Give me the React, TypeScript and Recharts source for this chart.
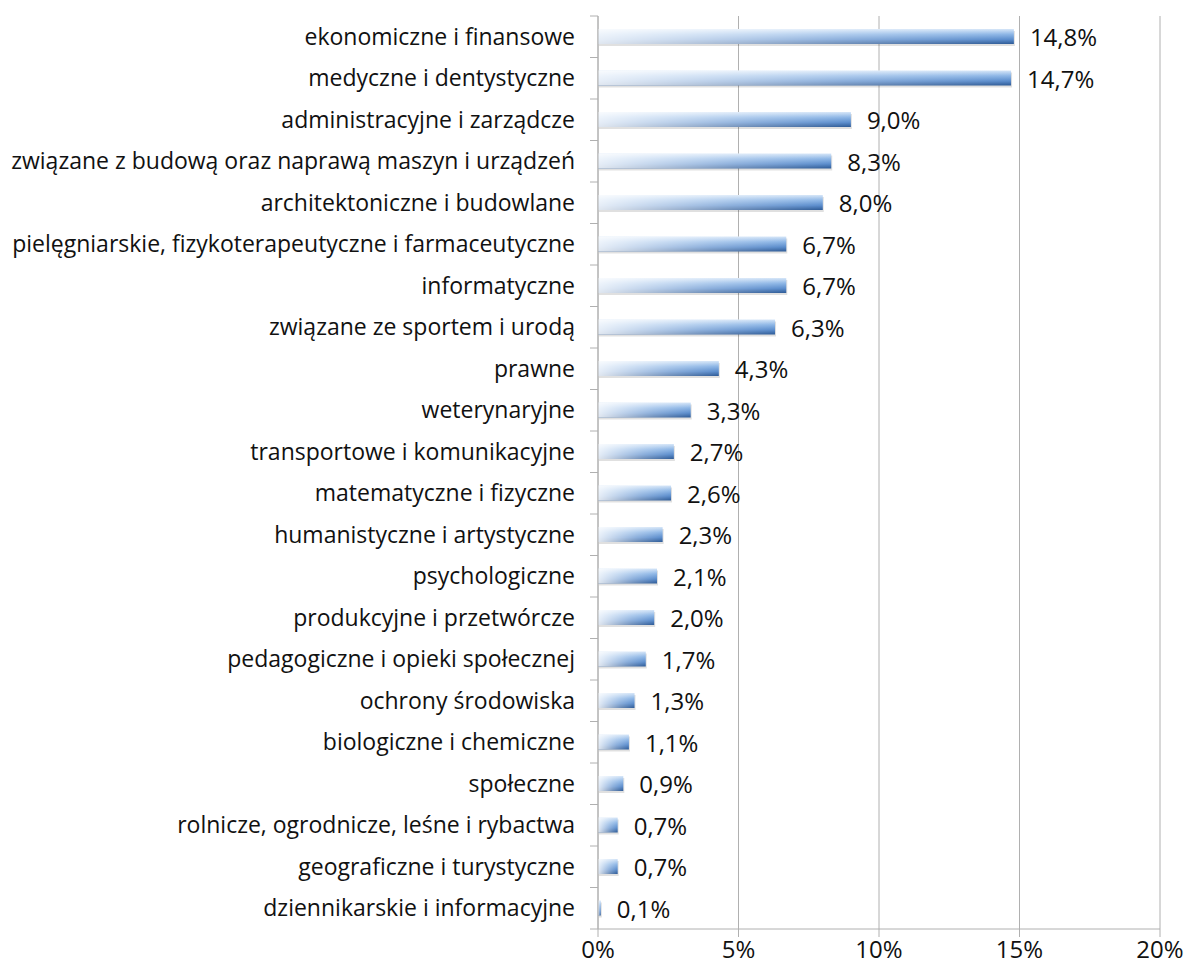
import { BarChart, Bar, XAxis, YAxis, CartesianGrid, LabelList } from "recharts";

const categories = [
  "ekonomiczne i finansowe",
  "medyczne i dentystyczne",
  "administracyjne i zarządcze",
  "związane z budową oraz naprawą maszyn i urządzeń",
  "architektoniczne i budowlane",
  "pielęgniarskie, fizykoterapeutyczne i farmaceutyczne",
  "informatyczne",
  "związane ze sportem i urodą",
  "prawne",
  "weterynaryjne",
  "transportowe i komunikacyjne",
  "matematyczne i fizyczne",
  "humanistyczne i artystyczne",
  "psychologiczne",
  "produkcyjne i przetwórcze",
  "pedagogiczne i opieki społecznej",
  "ochrony środowiska",
  "biologiczne i chemiczne",
  "społeczne",
  "rolnicze, ogrodnicze, leśne i rybactwa",
  "geograficzne i turystyczne",
  "dziennikarskie i informacyjne",
];

const shares = [
  14.8, 14.7, 9.0, 8.3, 8.0, 6.7, 6.7, 6.3, 4.3, 3.3, 2.7, 2.6, 2.3, 2.1, 2.0,
  1.7, 1.3, 1.1, 0.9, 0.7, 0.7, 0.1,
];

const xTicks = [0, 5, 10, 15, 20];

const data = categories.map((name, i) => ({ name, value: shares[i] }));

const W = 1187;
const H = 978;
const margin = { top: 16, right: 27, bottom: 9, left: 0 };
const xAxisHeight = 40;
const plotHeight = H - margin.top - margin.bottom - xAxisHeight;
const band = plotHeight / categories.length;

const gridColor = "#b0b0b0";
const font = "'Open Sans', sans-serif";

function CategoryTick(props: any) {
  const { x, y, payload, index } = props;
  return (
    <g>
      <line x1={x - 8} x2={x} y1={y - band / 2} y2={y - band / 2} stroke={gridColor} />
      {index === categories.length - 1 && (
        <line x1={x - 8} x2={x} y1={y + band / 2} y2={y + band / 2} stroke={gridColor} />
      )}
      <text x={x - 23} y={y} dy={8} textAnchor="end" fontSize={23} fill="#111" fontFamily={font}>
        {payload.value}
      </text>
    </g>
  );
}

function GlossyBar(props: any) {
  const { x, y, width, height } = props;
  if (!width || width <= 0) return null;
  return (
    <g>
      <rect x={x + 1} y={y + 2} width={width} height={height} fill="#000" opacity={0.12} />
      <rect x={x} y={y} width={width} height={height} fill="url(#barVert)" />
      <rect x={x} y={y} width={width} height={height} fill="url(#barHoriz)" />
    </g>
  );
}

export default function App() {
  return (
    <div style={{ position: "absolute", left: 0, top: 0, background: "#fff" }}>
      <BarChart width={W} height={H} data={data} layout="vertical" margin={margin}>
        <defs>
          <linearGradient id="barVert" x1="0" y1="0" x2="0" y2="1">
            <stop offset="0%" stopColor="#d6e6f8" />
            <stop offset="35%" stopColor="#8db6e6" />
            <stop offset="70%" stopColor="#5a8ccc" />
            <stop offset="100%" stopColor="#2d5a96" />
          </linearGradient>
          <linearGradient id="barHoriz" x1="0" y1="0" x2="1" y2="0">
            <stop offset="0%" stopColor="#ffffff" stopOpacity={0.85} />
            <stop offset="60%" stopColor="#ffffff" stopOpacity={0.3} />
            <stop offset="100%" stopColor="#ffffff" stopOpacity={0} />
          </linearGradient>
        </defs>
        <CartesianGrid horizontal={false} stroke={gridColor} />
        <XAxis
          type="number"
          domain={[0, 20]}
          ticks={xTicks}
          height={xAxisHeight}
          tickFormatter={(v) => `${v}%`}
          axisLine={{ stroke: gridColor }}
          tickLine={{ stroke: gridColor }}
          tickSize={8}
          tickMargin={4}
          tick={{ fill: "#111", fontSize: 24, fontFamily: font }}
        />
        <YAxis
          type="category"
          dataKey="name"
          width={598}
          axisLine={{ stroke: gridColor }}
          tickLine={false}
          tickSize={0}
          tickMargin={0}
          tick={<CategoryTick />}
          interval={0}
        />
        <Bar dataKey="value" barSize={15} shape={<GlossyBar />} isAnimationActive={false}>
          <LabelList
            dataKey="value"
            position="right"
            offset={16}
            formatter={(v: any) => `${Number(v).toFixed(1).replace(".", ",")}%`}
            style={{ fill: "#111", fontSize: 24, fontFamily: font, transform: "translateY(1px)" }}
          />
        </Bar>
      </BarChart>
    </div>
  );
}
